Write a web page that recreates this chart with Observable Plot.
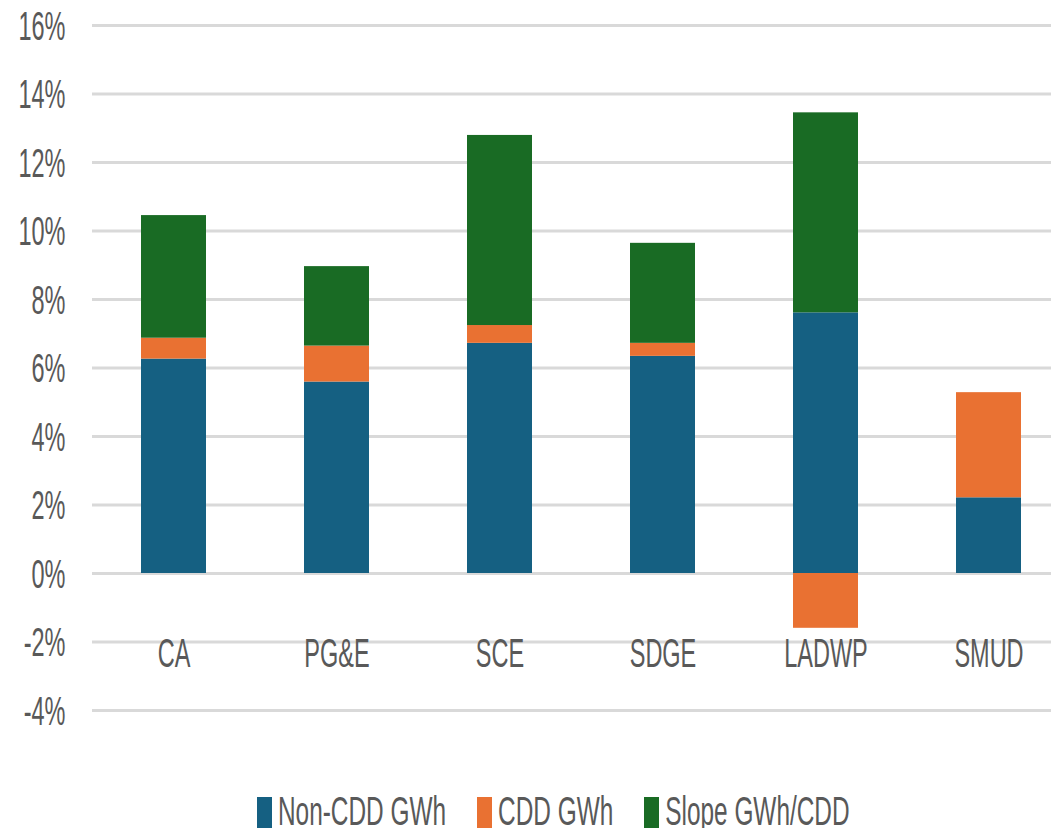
<!DOCTYPE html>
<html><head><meta charset="utf-8">
<script src="https://cdn.jsdelivr.net/npm/d3@7"></script>
<script src="https://cdn.jsdelivr.net/npm/@observablehq/plot@0.6"></script>
<style>
body{margin:0;background:#fff;font-family:"Liberation Sans",Arial,sans-serif;overflow:hidden;}
#chart svg{display:block;}
#legend{display:flex;align-items:center;height:32px;margin-top:51px;padding-left:257px;color:#595959;font-size:24.4px;}
#legend .item{display:flex;align-items:center;margin-right:31px;}
#legend .sw{width:15px;height:31px;margin-right:6px;}
#legend .lab{display:inline-block;transform:scaleY(1.66);line-height:1;}
</style></head><body>
<div id="chart"></div>
<div id="legend"></div>
<script>
const categories = ["CA","PG&E","SCE","SDGE","LADWP","SMUD"];
const series = ["Non-CDD GWh","CDD GWh","Slope GWh/CDD"];
const nonCdd = [6.26,5.59,6.72,6.34,7.61,2.21];
const cdd = [0.61,1.05,0.52,0.38,-1.60,3.07];
const slope = [3.58,2.32,5.55,2.92,5.84,0];
const yTicks = [-4,-2,0,2,4,6,8,10,12,14,16];
const colors = ["#156082","#E97132","#196B24"];

const rows = categories.flatMap((c,i)=>[
  {cat:c, series:series[0], value:nonCdd[i]},
  {cat:c, series:series[1], value:cdd[i]},
  {cat:c, series:series[2], value:slope[i]}
]);
const SY = 1.72;
const FONT = '"Liberation Sans",Arial,sans-serif';

const plot = Plot.plot({
  width:1051, height:745,
  marginLeft:92, marginRight:-20, marginTop:25, marginBottom:35,
  style:{fontFamily:FONT, fontSize:"23.5px", color:"#595959", background:"white", overflow:"hidden"},
  x:{domain:categories, paddingInner:0.6, paddingOuter:0.3, label:null},
  y:{domain:[-4,16], label:null},
  color:{domain:series, range:colors},
  marks:[
    Plot.ruleY(yTicks,{stroke:"#d9d9d9",strokeWidth:3}),
    Plot.barY(rows,{x:"cat", y:"value", fill:"series"}),
    Plot.axisY(yTicks,{tickSize:0, tickPadding:27, tickFormat:d=>d+"%", label:null, dy:1}),
    Plot.axisX({tickSize:0, tickPadding:3, dy:-69, label:null})
  ]
});
document.getElementById("chart").appendChild(plot);
plot.querySelectorAll("text").forEach(t=>{
  const b = t.getBBox();
  const cy = b.y + b.height/2;
  const tr = t.getAttribute("transform")||"";
  t.setAttribute("transform", `${tr} translate(0,${cy}) scale(1,${SY}) translate(0,${-cy})`);
});

const legend = document.getElementById("legend");
series.forEach((s,i)=>{
  const it = document.createElement("div"); it.className="item";
  const sw = document.createElement("span"); sw.className="sw"; sw.style.background=colors[i];
  const lab = document.createElement("span"); lab.className="lab"; lab.textContent=s;
  it.appendChild(sw); it.appendChild(lab); legend.appendChild(it);
});
</script>
</body></html>
